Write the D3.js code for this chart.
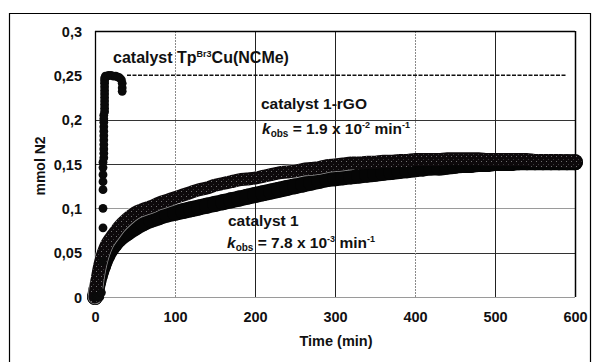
<!DOCTYPE html>
<html><head><meta charset="utf-8">
<script src="https://cdn.jsdelivr.net/npm/d3@7"></script>
<style>
body{margin:0;background:#fff}
svg{display:block}
text{font-family:"Liberation Sans","Arial",sans-serif;font-weight:bold;fill:#111}
</style>
</head><body>
<svg id="c" width="596" height="362"></svg>
<script>
// ---- data ----
const tpTime = [0,2,4,6,8,9,10,10,10,10,10,10,10,11,11,11,11,11,11,11,11,11,11,11,12,12,12,12,12,12,12,12,12,12,12,13,15,17,20,23,26,29,31,33,34,34,34];
const tpN2   = [0,0,0,0,0.005,0.04,0.078,0.1,0.121,0.13,0.138,0.146,0.152,0.157,0.162,0.167,0.172,0.177,0.182,0.187,0.192,0.197,0.201,0.205,0.209,0.213,0.217,0.221,0.225,0.229,0.233,0.237,0.241,0.244,0.247,0.249,0.249,0.25,0.25,0.249,0.249,0.248,0.247,0.245,0.241,0.236,0.232];
const tpPlateauTime = [40,590];
const tpPlateauN2 = [0.25,0.25];

const rgoTime = [0,2,4,6,8,10,12,15,20,25,30,40,50,60,70,80,90,100,110,120,130,140,150,160,170,180,190,200,210,220,230,240,250,260,270,280,290,300,310,320,330,340,350,360,370,380,390,400,410,420,430,440,450,460,470,480,490,500,510,520,530,540,550,560,570,580,590,600];
const rgoN2   = [0,0.015,0.027,0.036,0.043,0.049,0.054,0.06,0.067,0.073,0.079,0.088,0.095,0.099,0.102,0.106,0.109,0.112,0.115,0.118,0.121,0.123,0.126,0.128,0.13,0.132,0.133,0.134,0.136,0.138,0.14,0.141,0.142,0.144,0.145,0.146,0.148,0.149,0.15,0.151,0.151,0.152,0.152,0.153,0.153,0.154,0.154,0.155,0.155,0.155,0.155,0.156,0.156,0.156,0.156,0.156,0.155,0.155,0.155,0.155,0.155,0.155,0.154,0.154,0.154,0.154,0.153,0.153];

const cat1Time = [0,2,4,6,8,10,12,15,20,25,30,40,50,60,70,80,90,100,110,120,130,140,150,160,170,180,190,200,210,220,230,240,250,260,270,280,290,300,310,320,330,340,350,360,370,380,390,400,410,420,430,440,450,460,470,480,490,500,510,520,530,540,550,560,570,580,590,600];
const cat1N2   = [0,0.009,0.017,0.024,0.03,0.035,0.04,0.046,0.054,0.06,0.065,0.072,0.078,0.083,0.087,0.09,0.093,0.095,0.097,0.099,0.101,0.103,0.105,0.107,0.109,0.111,0.113,0.115,0.117,0.119,0.121,0.123,0.125,0.127,0.129,0.131,0.133,0.134,0.135,0.136,0.137,0.138,0.139,0.14,0.141,0.142,0.143,0.144,0.145,0.146,0.146,0.147,0.148,0.149,0.149,0.15,0.15,0.151,0.151,0.151,0.152,0.152,0.152,0.152,0.152,0.152,0.152,0.152];

const xTicks = [0,100,200,300,400,500,600];
const yTicks = [0,0.05,0.1,0.15,0.2,0.25,0.3];
const yTickLabels = ["0","0,05","0,1","0,15","0,2","0,25","0,3"];

// ---- drawing ----
const svg = d3.select("#c");
const x = d3.scaleLinear().domain([0,600]).range([95,575]);
const y = d3.scaleLinear().domain([0,0.3]).range([297,31]);

const defs = svg.append("defs");
const pat = defs.append("pattern").attr("id","stip").attr("width",5).attr("height",5).attr("patternUnits","userSpaceOnUse");
pat.append("rect").attr("width",5).attr("height",5).attr("fill","#0d090b");
pat.append("rect").attr("x",1).attr("y",1).attr("width",1).attr("height",1).attr("fill","#6e6e6e");
pat.append("rect").attr("x",3).attr("y",4).attr("width",1).attr("height",1).attr("fill","#3a3a3a");

// outer frame
svg.append("path").attr("d","M9.5,370V13.5H590.5V370").attr("fill","none").attr("stroke","#000").attr("stroke-width",1.2);

// gridlines
const gridY = svg.append("g");
gridY.selectAll("line").data(yTicks.filter(v=>v>0 && v<0.25)).join("line")
  .attr("x1",x(0)).attr("x2",x(600)).attr("y1",d=>Math.round(y(d))+0.5).attr("y2",d=>Math.round(y(d))+0.5)
  .attr("stroke",d=>Math.abs(d-0.1)<1e-9?"#9a9a9a":"#333").attr("stroke-width",1);
const gridX = svg.append("g");
gridX.selectAll("line").data(xTicks.filter(v=>v>0 && v<600)).join("line")
  .attr("x1",d=>Math.round(x(d))+0.5).attr("x2",d=>Math.round(x(d))+0.5).attr("y1",y(0.3)).attr("y2",y(0))
  .attr("stroke",d=>(d===100||d===400)?"#8a8a8a":"#222")
  .attr("stroke-dasharray",d=>(d===100||d===400)?"2,1":null)
  .attr("stroke-width",1);

// plot border: top, left, right black; bottom axis gray
svg.append("line").attr("x1",x(0)).attr("x2",x(600)).attr("y1",Math.round(y(0.3))+0.5).attr("y2",Math.round(y(0.3))+0.5).attr("stroke","#000").attr("stroke-width",1.3);
svg.append("line").attr("x1",Math.round(x(0))+0.5).attr("x2",Math.round(x(0))+0.5).attr("y1",y(0.3)).attr("y2",y(0)).attr("stroke","#000").attr("stroke-width",1.3);
svg.append("line").attr("x1",Math.round(x(600))+0.5).attr("x2",Math.round(x(600))+0.5).attr("y1",y(0.3)).attr("y2",y(0)).attr("stroke","#000").attr("stroke-width",1.5);
svg.append("line").attr("x1",x(0)).attr("x2",x(600)).attr("y1",Math.round(y(0))+0.5).attr("y2",Math.round(y(0))+0.5).attr("stroke","#9a9a9a").attr("stroke-width",1.2);

// axes tick labels
const yAxis = d3.axisLeft(y).tickValues(yTicks).tickSize(0).tickPadding(0).tickFormat((d,i)=>yTickLabels[i]);
const gy = svg.append("g").attr("transform","translate(82,0)").call(yAxis);
gy.select(".domain").remove();
const xAxis = d3.axisBottom(x).tickValues(xTicks).tickSize(0).tickPadding(0).tickFormat(d3.format("d"));
const gx = svg.append("g").attr("transform","translate(0,312)").call(xAxis);
gx.select(".domain").remove();
svg.selectAll("g[font-family]").attr("font-family",null).attr("font-size",null);
gy.selectAll("text").attr("font-size",14.5).attr("dy","0.36em");
gx.selectAll("text").attr("font-size",14.5).attr("dy","0.72em");
svg.selectAll(".tick text").attr("fill","#111");

// axis titles
svg.append("text").attr("x",336).attr("y",346).attr("text-anchor","middle").attr("font-size",14.5).text("Time (min)");
svg.append("text").attr("transform","translate(45,166) rotate(-90)").attr("text-anchor","middle").attr("font-size",14).text("mmol N2");

// series
const cat1 = cat1Time.map((t,i)=>[t,cat1N2[i]]);
const rgo = rgoTime.map((t,i)=>[t,rgoN2[i]]);
const tp = tpTime.map((t,i)=>[t,tpN2[i]]);
const line = d3.line().x(d=>x(d[0])).y(d=>y(d[1])).curve(d3.curveMonotoneX);

// catalyst 1 (black)
svg.append("path").datum(cat1).attr("d",line).attr("fill","none").attr("stroke","#050505").attr("stroke-width",16).attr("stroke-linecap","round").attr("stroke-linejoin","round");
svg.append("g").selectAll("circle").data(cat1).join("circle").attr("cx",d=>x(d[0])).attr("cy",d=>y(d[1])).attr("r",8).attr("fill","#050505");

// catalyst 1-rGO (stippled dark)
svg.append("path").datum(rgo.slice(0,40)).attr("d",line).attr("fill","none").attr("stroke","#fff").attr("stroke-width",14.5).attr("stroke-linecap","round").attr("stroke-linejoin","round").attr("opacity",0.55);
svg.append("path").datum(rgo).attr("d",line).attr("fill","none").attr("stroke","url(#stip)").attr("stroke-width",13).attr("stroke-linecap","round").attr("stroke-linejoin","round");

// Tp catalyst
svg.append("line").attr("x1",x(tpPlateauTime[0])).attr("x2",x(tpPlateauTime[1])).attr("y1",y(tpPlateauN2[0])).attr("y2",y(tpPlateauN2[1]))
  .attr("stroke","#111").attr("stroke-width",1.5).attr("stroke-dasharray","4,1.5");
svg.append("g").selectAll("circle").data(tp).join("circle").attr("cx",d=>x(d[0])).attr("cy",d=>y(d[1])).attr("r",4.4).attr("fill","#0a0a0a");

// annotations
const t1 = svg.append("text").attr("x",113).attr("y",63).attr("font-size",16);
t1.append("tspan").text("catalyst Tp");
t1.append("tspan").attr("font-size",9).attr("dy",-6).text("Br3");
t1.append("tspan").attr("dy",6).text("Cu(NCMe)");

svg.append("text").attr("x",261).attr("y",109).attr("font-size",15.5).text("catalyst 1-rGO");
const k1 = svg.append("text").attr("x",262).attr("y",134).attr("font-size",15.5);
k1.append("tspan").attr("font-style","italic").text("k");
k1.append("tspan").attr("font-size",10).attr("dy",3).text("obs");
k1.append("tspan").attr("dy",-3).text(" = 1.9 x 10");
k1.append("tspan").attr("font-size",9).attr("dy",-6).text("-2");
k1.append("tspan").attr("dy",6).text(" min");
k1.append("tspan").attr("font-size",9).attr("dy",-6).text("-1");

svg.append("text").attr("x",228).attr("y",226).attr("font-size",15.5).text("catalyst 1");
const k2 = svg.append("text").attr("x",227).attr("y",248).attr("font-size",15.5);
k2.append("tspan").attr("font-style","italic").text("k");
k2.append("tspan").attr("font-size",10).attr("dy",3).text("obs");
k2.append("tspan").attr("dy",-3).text(" = 7.8 x 10");
k2.append("tspan").attr("font-size",9).attr("dy",-6).text("-3");
k2.append("tspan").attr("dy",6).text(" min");
k2.append("tspan").attr("font-size",9).attr("dy",-6).text("-1");
</script>
</body></html>
